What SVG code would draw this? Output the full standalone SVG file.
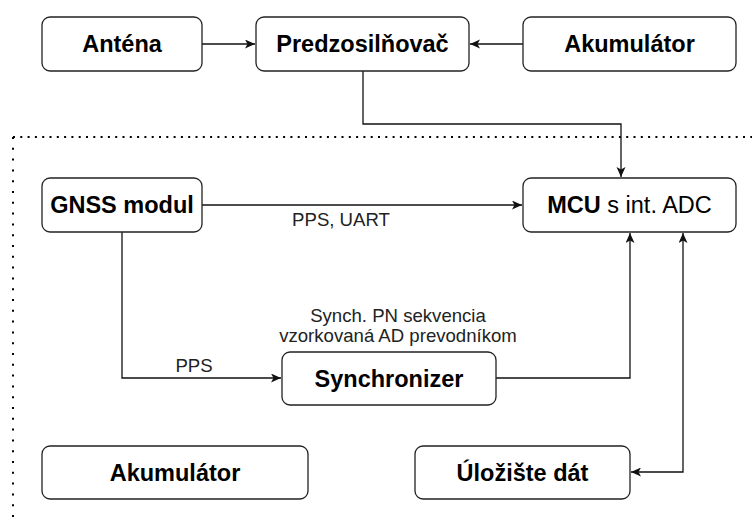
<svg xmlns="http://www.w3.org/2000/svg" width="752" height="519" viewBox="0 0 752 519">
<style>
.box{fill:#fff;stroke:#222;stroke-width:1.3}
.t{font-family:"Liberation Sans",Arial,sans-serif;font-size:23.5px;font-weight:bold;fill:#000;text-anchor:middle}
.s{font-family:"Liberation Sans",Arial,sans-serif;font-size:18.6px;fill:#222;text-anchor:middle}
.c{fill:none;stroke:#111;stroke-width:1.3}
.dot{fill:none;stroke:#000;stroke-width:2}
</style>
<defs>
<marker id="ah" markerUnits="userSpaceOnUse" markerWidth="12" markerHeight="10" refX="10" refY="4.5" orient="auto">
<path d="M0,0 L10,4.5 L0,9 L2.5,4.5 z" fill="#111"/>
</marker>
<marker id="as" markerUnits="userSpaceOnUse" markerWidth="12" markerHeight="10" refX="0" refY="4.5" orient="auto">
<path d="M10,0 L0,4.5 L10,9 L7.5,4.5 z" fill="#111"/>
</marker>
</defs>
<g id="border">
<line class="dot" x1="13" y1="137" x2="752" y2="137" stroke-dasharray="2 5.3"/>
<line class="dot" x1="13" y1="137" x2="13" y2="519" stroke-dasharray="2 8.8"/>
</g>
<g id="connectors">
<path class="c" d="M202,44 H255" marker-end="url(#ah)"/>
<path class="c" d="M523,44 H470" marker-end="url(#ah)"/>
<path class="c" d="M363,71 V124 H621 V177" marker-end="url(#ah)"/>
<path class="c" d="M202,205 H522" marker-end="url(#ah)"/>
<path class="c" d="M122,232 V378 H281" marker-end="url(#ah)"/>
<path class="c" d="M496,378 H630 V233" marker-end="url(#ah)"/>
<path class="c" d="M631,472 H683 V233" marker-start="url(#as)" marker-end="url(#ah)"/>
<text class="s" x="341" y="226">PPS, UART</text>
<text class="s" x="194" y="372">PPS</text>
<text class="s" x="398" y="322">Synch. PN sekvencia</text>
<text class="s" x="398" y="342">vzorkovaná AD prevodníkom</text>
</g>
<g id="antena"><rect class="box" x="42" y="17" width="160" height="54" rx="8"/><text class="t" x="122" y="52">Anténa</text></g>
<g id="predzosilnovac"><rect class="box" x="256" y="17" width="213" height="54" rx="8"/><text class="t" x="362.5" y="52">Predzosilňovač</text></g>
<g id="akumulator1"><rect class="box" x="523" y="17" width="213" height="54" rx="8"/><text class="t" x="629.5" y="52">Akumulátor</text></g>
<g id="gnss"><rect class="box" x="42" y="178" width="160" height="54" rx="8"/><text class="t" x="122" y="213">GNSS modul</text></g>
<g id="mcu"><rect class="box" x="523" y="178" width="213" height="54" rx="8"/><text class="t" x="629.5" y="213">MCU<tspan font-weight="normal"> s int. ADC</tspan></text></g>
<g id="synchronizer"><rect class="box" x="282" y="352" width="214" height="53" rx="8"/><text class="t" x="389" y="387">Synchronizer</text></g>
<g id="akumulator2"><rect class="box" x="42" y="446" width="266" height="53" rx="8"/><text class="t" x="175" y="481">Akumulátor</text></g>
<g id="ulozisko"><rect class="box" x="415" y="446" width="215" height="53" rx="8"/><text class="t" x="522.5" y="481">Úložište dát</text></g>
</svg>
